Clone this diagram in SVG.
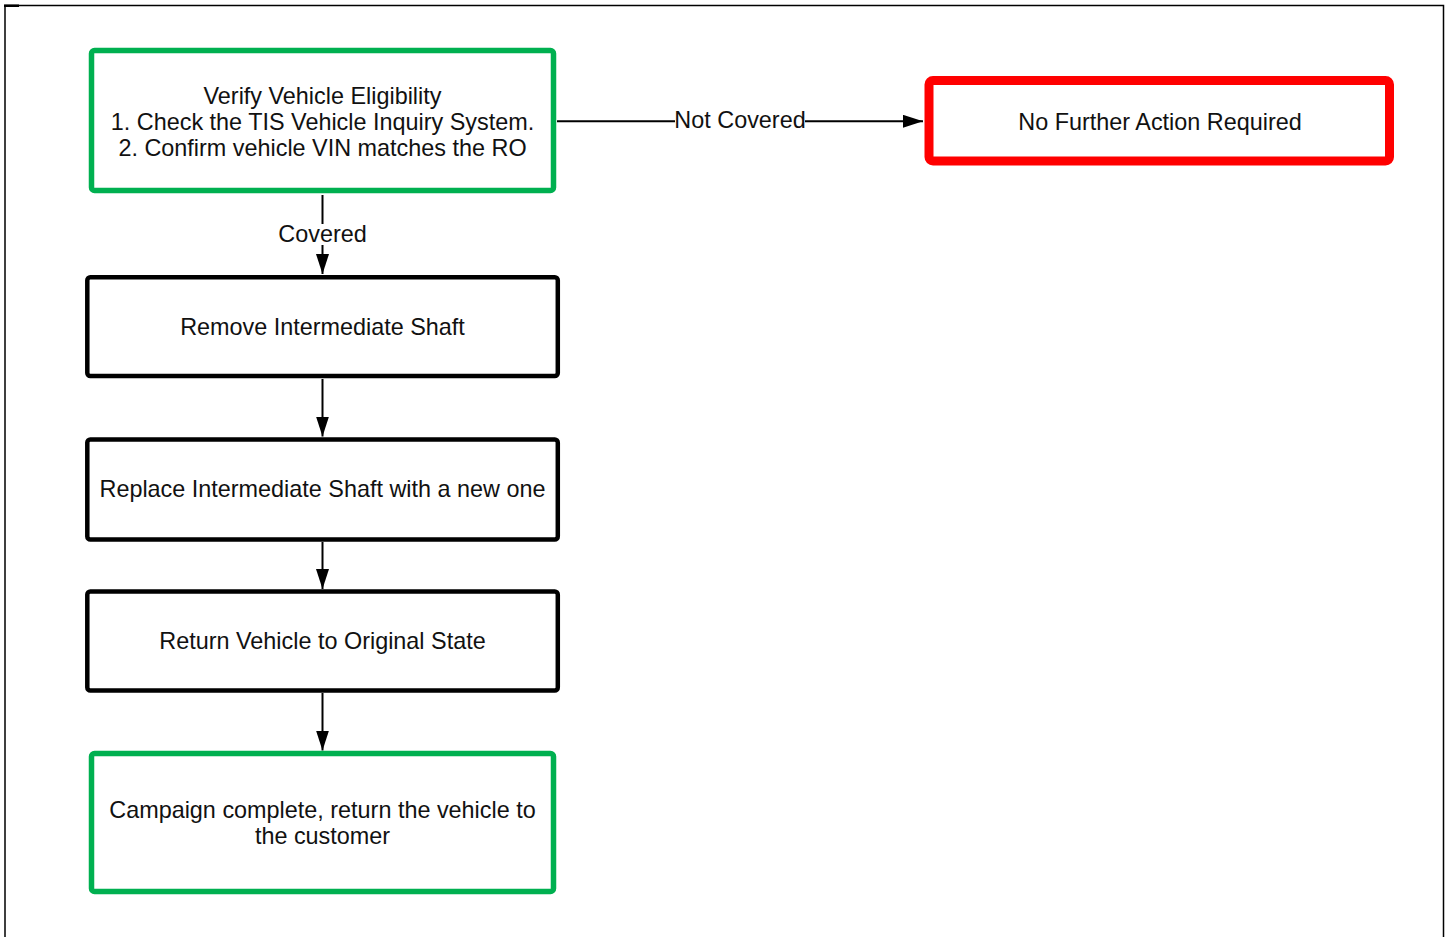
<svg xmlns="http://www.w3.org/2000/svg" width="1451" height="937" viewBox="0 0 1451 937">
<defs>
<style>
.t{font-family:"Liberation Sans",Arial,sans-serif;font-size:23.4px;fill:#111;text-anchor:middle}
.g{fill:#fff;stroke:#00b050;stroke-width:5.5}
.k{fill:#fff;stroke:#000;stroke-width:4.5}
.r{fill:#fff;stroke:#ff0000;stroke-width:9}
.c{stroke:#000;stroke-width:2;fill:none}
</style>
<marker id="ah" viewBox="0 0 20 13" refX="20" refY="6.5" markerWidth="20" markerHeight="13" markerUnits="userSpaceOnUse" orient="auto">
<path d="M0,0 L20,6.5 L0,13 Z" fill="#000"/>
</marker>
</defs>
<rect width="1451" height="937" fill="#fff"/>
<g id="frame">
<path d="M5,937 V5.5 H1443.5 V937" fill="none" stroke="#000" stroke-width="1.5"/>
<rect x="4" y="4.5" width="15" height="2.5" fill="#000"/>
</g>
<g id="connectors">
<line class="c" x1="322.5" y1="195" x2="322.5" y2="224"/>
<line class="c" x1="322.5" y1="245" x2="322.5" y2="274" marker-end="url(#ah)"/>
<text class="t" x="322.5" y="242">Covered</text>
<line class="c" x1="557" y1="121.3" x2="675" y2="121.3"/>
<line class="c" x1="805" y1="121.3" x2="923" y2="121.3" marker-end="url(#ah)"/>
<text class="t" x="740" y="128.3">Not Covered</text>
<line class="c" x1="322.5" y1="379" x2="322.5" y2="436.5" marker-end="url(#ah)"/>
<line class="c" x1="322.5" y1="542" x2="322.5" y2="589" marker-end="url(#ah)"/>
<line class="c" x1="322.5" y1="693" x2="322.5" y2="750.5" marker-end="url(#ah)"/>
</g>
<g id="verify">
<rect class="g" x="91.5" y="50.5" width="462" height="140" rx="3"/>
<text class="t" x="322.5" y="104">Verify Vehicle Eligibility</text>
<text class="t" x="322.5" y="130">1. Check the TIS Vehicle Inquiry System.</text>
<text class="t" x="322.5" y="155.5">2. Confirm vehicle VIN matches the RO</text>
</g>
<g id="no-action">
<rect class="r" x="929" y="80.5" width="460.5" height="80.5" rx="4"/>
<text class="t" x="1160" y="129.5">No Further Action Required</text>
</g>
<g id="remove">
<rect class="k" x="87.3" y="277.3" width="470.5" height="98.7" rx="3"/>
<text class="t" x="322.5" y="334.5">Remove Intermediate Shaft</text>
</g>
<g id="replace">
<rect class="k" x="87.3" y="439.5" width="470.5" height="100" rx="3"/>
<text class="t" x="322.5" y="497">Replace Intermediate Shaft with a new one</text>
</g>
<g id="return">
<rect class="k" x="87.3" y="591.5" width="470.5" height="99" rx="3"/>
<text class="t" x="322.5" y="649">Return Vehicle to Original State</text>
</g>
<g id="complete">
<rect class="g" x="91.5" y="753.5" width="462" height="138" rx="3"/>
<text class="t" x="322.5" y="818">Campaign complete, return the vehicle to</text>
<text class="t" x="322.5" y="843.5">the customer</text>
</g>
</svg>
